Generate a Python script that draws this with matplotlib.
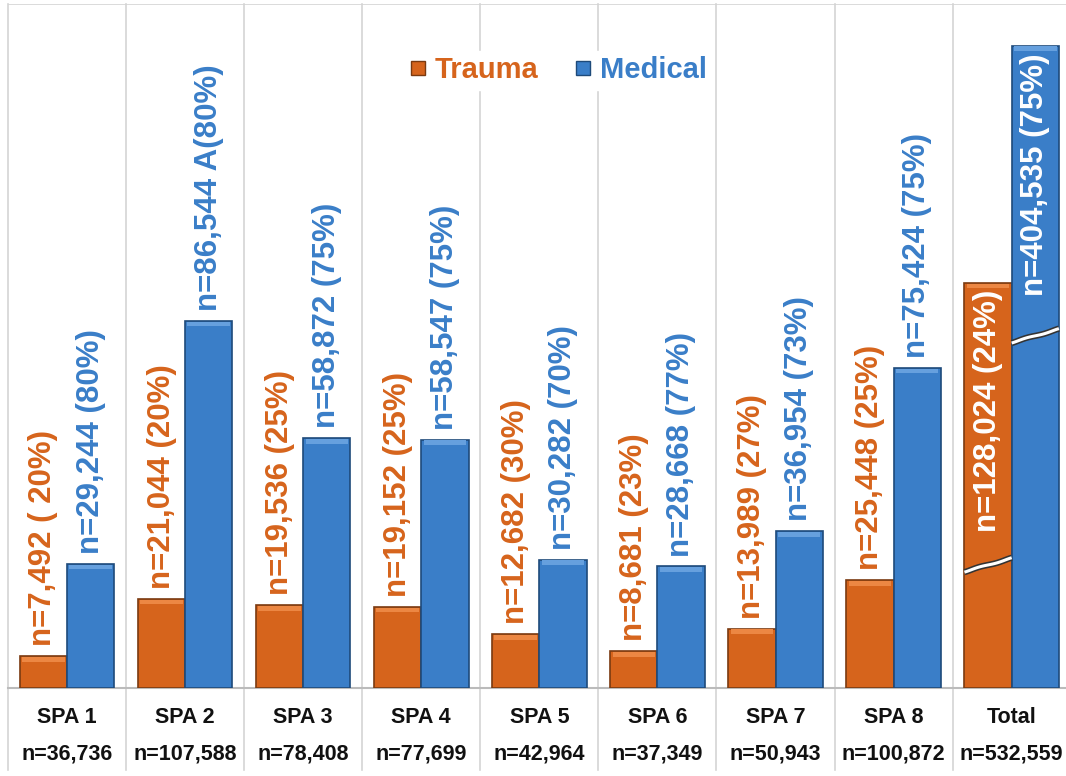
import numpy as np
import matplotlib
matplotlib.use("Agg")
import matplotlib.pyplot as plt
from matplotlib.lines import Line2D

plt.rcParams["font.family"] = ["Liberation Sans", "DejaVu Sans"]
plt.rcParams["font.weight"] = "bold"

# data
groups = ["SPA 1", "SPA 2", "SPA 3", "SPA 4", "SPA 5", "SPA 6", "SPA 7", "SPA 8", "Total"]
group_n = ["n=36,736", "n=107,588", "n=78,408", "n=77,699", "n=42,964",
           "n=37,349", "n=50,943", "n=100,872", "n=532,559"]
trauma = [7492, 21044, 19536, 19152, 12682, 8681, 13989, 25448, 128024]
medical = [29244, 86544, 58872, 58547, 30282, 28668, 36954, 75424, 404535]
trauma_labels = ["n=7,492 ( 20%)", "n=21,044 (20%)", "n=19,536 (25%)", "n=19,152 (25%)",
                 "n=12,682 (30%)", "n=8,681 (23%)", "n=13,989 (27%)", "n=25,448 (25%)",
                 "n=128,024 (24%)"]
medical_labels = ["n=29,244 (80%)", "n=86,544 A(80%)", "n=58,872 (75%)", "n=58,547 (75%)",
                  "n=30,282 (70%)", "n=28,668 (77%)", "n=36,954 (73%)", "n=75,424 (75%)",
                  "n=404,535 (75%)"]
# the Total bars are drawn shortened, with a break mark
total_display = [95500, 151400]
total_breaks = [29000, 83000]

ORANGE = "#D6641C"
BLUE = "#3A7EC8"
ORANGE_EDGE = "#7A3A10"
BLUE_EDGE = "#1E4A7A"
GRID = "#D4D4D4"

fig = plt.figure(figsize=(10.66, 7.76), dpi=100)
ax = fig.add_axes([8 / 1066, 88 / 776, 1 - 8 / 1066, 684 / 776])

x = np.arange(len(groups))
w = 0.4
t_h = trauma[:-1] + [total_display[0]]
m_h = medical[:-1] + [total_display[1]]

ax.bar(x - w / 2, t_h, w, color=ORANGE, edgecolor=ORANGE_EDGE, linewidth=1.2, zorder=3)
ax.bar(x + w / 2, m_h, w, color=BLUE, edgecolor=BLUE_EDGE, linewidth=1.2, zorder=3)
# lighter top edge for the bevelled look
ax.bar(x - w / 2, [1100] * len(x), w * 0.9, bottom=np.array(t_h) - 1300,
       color="#EC8743", linewidth=0, zorder=4)
ax.bar(x + w / 2, [1100] * len(x), w * 0.9, bottom=np.array(m_h) - 1300,
       color="#66A0DE", linewidth=0, zorder=4)

ax.set_xlim(-0.5, 8.46)
ax.set_ylim(0, 161200)

# value labels
for i in range(len(groups) - 1):
    ax.annotate(trauma_labels[i], (x[i] - w / 2, trauma[i]), xytext=(0, 7),
                textcoords="offset points", rotation=90, ha="center", va="bottom",
                color=ORANGE, fontsize=22.5, fontweight="bold", zorder=5)
    ax.annotate(medical_labels[i], (x[i] + w / 2, medical[i]), xytext=(0, 7),
                textcoords="offset points", rotation=90, ha="center", va="bottom",
                color=BLUE, fontsize=22.5, fontweight="bold", zorder=5)

last = len(groups) - 1
ax.annotate(trauma_labels[last], (x[last] - w / 2, total_display[0]), xytext=(0, -5),
            textcoords="offset points", rotation=90, ha="center", va="top",
            color="white", fontsize=22.5, fontweight="bold", zorder=6)
ax.annotate(medical_labels[last], (x[last] + w / 2, total_display[1]), xytext=(0, -6),
            textcoords="offset points", rotation=90, ha="center", va="top",
            color="white", fontsize=22.5, fontweight="bold", zorder=6)

# break marks on the Total bars
for off, yb in zip([-w / 2, w / 2], total_breaks):
    xs = np.linspace(x[last] + off - w / 2, x[last] + off + w / 2, 40)
    tt = np.linspace(0, 1, 40)
    ys = yb + 1700 * np.sin(np.pi * (tt - 0.5)) + 500 * np.sin(2 * np.pi * tt)
    ax.plot(xs, ys, color="#333333", lw=4.5, solid_capstyle="butt", zorder=7)
    ax.plot(xs, ys, color="white", lw=2.2, solid_capstyle="butt", zorder=8)

# grid / table lines
for b in np.arange(-0.5, 8.5, 1.0):
    ax.axvline(b, ymin=-0.12, ymax=1, color=GRID, lw=1.2, clip_on=False, zorder=1)
ax.axhline(161200, color=GRID, lw=1.2, zorder=1)

for s in ax.spines.values():
    s.set_visible(False)
ax.axhline(0, color="#BBBBBB", lw=1.5, zorder=2, clip_on=False)
ax.set_xticks([])
ax.set_yticks([])

# category table under the bars
tr = ax.get_xaxis_transform()
for i in range(len(groups)):
    ax.text(x[i], -0.043, groups[i], transform=tr, ha="center", va="center",
            fontsize=15.5, fontweight="bold", color="#111111", clip_on=False)
    ax.text(x[i], -0.096, group_n[i], transform=tr, ha="center", va="center",
            fontsize=15.5, fontweight="bold", color="#111111", clip_on=False)

handles = [Line2D([], [], marker="s", ls="none", markersize=10, markerfacecolor=ORANGE,
                  markeredgecolor=ORANGE_EDGE),
           Line2D([], [], marker="s", ls="none", markersize=10, markerfacecolor=BLUE,
                  markeredgecolor=BLUE_EDGE)]
leg = ax.legend(handles, ["Trauma", "Medical"], loc="center", bbox_to_anchor=(0.517, 0.903),
                ncol=2, frameon=True, framealpha=1, edgecolor="white", fancybox=False,
                prop={"size": 21, "weight": "bold"}, handletextpad=0.1, columnspacing=1.0,
                borderpad=0.2, handlelength=1.0)
leg.get_texts()[0].set_color(ORANGE)
leg.get_texts()[1].set_color(BLUE)
leg.set_zorder(10)

fig.savefig("out.png", dpi=100)
